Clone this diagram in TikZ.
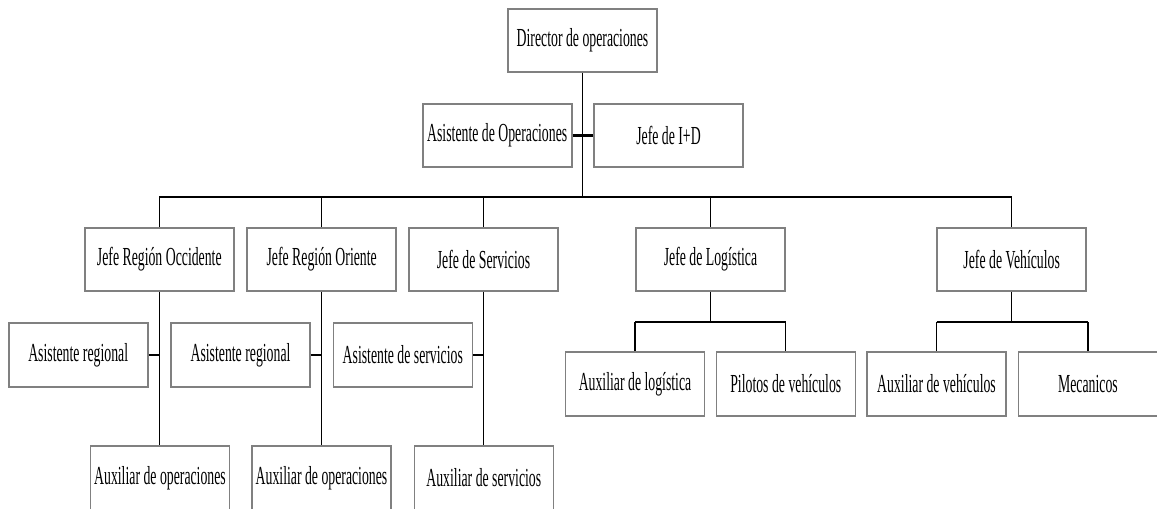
\documentclass[tikz,border=0pt]{standalone}
\usepackage{fontspec}
\setmainfont[FakeStretch=0.53]{Liberation Serif}
\begin{document}
\begin{tikzpicture}[x=0.75pt,y=-0.75pt,
  box/.style={draw=black!50,line width=1.2pt,fill=white,rectangle,inner sep=0pt,
    font=\fontsize{19.5}{21}\selectfont},
  wbox/.style={box,minimum width=111.75pt,minimum height=47.25pt},
  sbox/.style={box,minimum width=104.25pt,minimum height=48pt},
  link/.style={draw=black,line width=0.95pt},
  bus/.style={draw=black,line width=1.6pt},
  stub/.style={draw=black,line width=2.2pt}]
\useasboundingbox (0,0) rectangle (1157,508);

% top level
\node[wbox] (dir) at (582.5,40.5) {Director de operaciones};
\node[wbox] (asop) at (497.2,135.5) {Asistente de Operaciones};
\node[wbox] (id) at (668.5,135.5) {Jefe de I+D};

% department heads
\node[wbox] (jro) at (159.3,259.5) {Jefe Región Occidente};
\node[wbox] (jror) at (321.7,259.5) {Jefe Región Oriente};
\node[wbox] (js) at (483.5,259.5) {Jefe de Servicios};
\node[wbox] (jl) at (710.5,259.5) {Jefe de Logística};
\node[wbox] (jv) at (1011.7,259.5) {Jefe de Vehículos};

% assistants
\node[sbox] (ar1) at (78.2,355) {Asistente regional};
\node[sbox] (ar2) at (240.5,355) {Asistente regional};
\node[sbox] (as) at (402.8,355) {Asistente de servicios};

% auxiliaries
\node[sbox] (ao1) at (160,478) {Auxiliar de operaciones};
\node[sbox] (ao2) at (321.5,478) {Auxiliar de operaciones};
\node[sbox] (asv) at (483.8,478) {Auxiliar de servicios};

% logistics and vehicles staff
\node[sbox] (alog) at (635,384) {Auxiliar de logística};
\node[sbox] (pil) at (785.8,384) {Pilotos de vehículos};
\node[sbox] (aveh) at (936.5,384) {Auxiliar de vehículos};
\node[sbox] (mec) at (1087.9,384) {Mecanicos};

% bus coordinates
\coordinate (bus) at (582.5,197.3);
\coordinate (lbus) at (710.5,321.7);
\coordinate (vbus) at (1011.7,322);

% director to main bus, with side staff
\draw[link] (dir.south) -- (bus);
\draw[stub] (asop.east) -- (asop.east -| dir.south);
\draw[stub] (id.west) -- (id.west -| dir.south);

% main bus and drops
\draw[bus] (jro.north |- bus) -- (jv.north |- bus);
\foreach \n in {jro,jror,js,jl,jv}
  \draw[link] (\n.north |- bus) -- (\n.north);

% regional columns
\draw[link] (jro.south) -- (jro.south |- ao1.north);
\draw[link] (jror.south) -- (jror.south |- ao2.north);
\draw[link] (js.south) -- (js.south |- asv.north);
\draw[stub] (ar1.east) -- (ar1.east -| jro.south);
\draw[stub] (ar2.east) -- (ar2.east -| jror.south);
\draw[stub] (as.east) -- (as.east -| js.south);

% logistics branch
\draw[link] (jl.south) -- (lbus);
\draw[bus] (alog.north |- lbus) -- (pil.north |- lbus);
\draw[link] (alog.north |- lbus) -- (alog.north);
\draw[link] (pil.north |- lbus) -- (pil.north);

% vehicles branch
\draw[link] (jv.south) -- (vbus);
\draw[bus] (aveh.north |- vbus) -- (mec.north |- vbus);
\draw[link] (aveh.north |- vbus) -- (aveh.north);
\draw[link] (mec.north |- vbus) -- (mec.north);
\end{tikzpicture}
\end{document}
